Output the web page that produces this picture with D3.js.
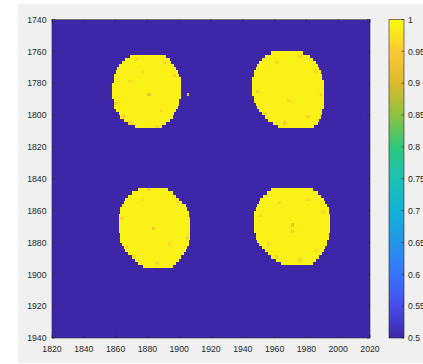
<!DOCTYPE html>
<html>
<head>
<meta charset="utf-8">
<script src="https://cdn.jsdelivr.net/npm/d3@7"></script>
<style>
  html, body { margin: 0; padding: 0; background: #fff; }
  text { font-family: "Liberation Sans", Arial, sans-serif; fill: #262626; }
</style>
</head>
<body>
<div id="chart"></div>
<script>
// axis ticks
const xTicks = [1820, 1840, 1860, 1880, 1900, 1920, 1940, 1960, 1980, 2000, 2020]
const yTicks = [1740, 1760, 1780, 1800, 1820, 1840, 1860, 1880, 1900, 1920, 1940]
const cTicks = [0.5, 0.55, 0.6, 0.65, 0.7, 0.75, 0.8, 0.85, 0.9, 0.95, 1]
const cLabels = ["0.5", "0.55", "0.6", "0.65", "0.7", "0.75", "0.8", "0.85", "0.9", "0.95", "1"]

// parula colour stops (value -> colour)
const parulaValues = [0.5, 0.55, 0.6, 0.65, 0.7, 0.75, 0.8, 0.85, 0.9, 0.95, 1]
const parulaColors = ["#3e26a8", "#484ceb", "#3675fd", "#2396e8", "#11b2d7", "#1ec0b4",
                      "#2cc87a", "#8cc33c", "#dcb92d", "#fdc834", "#f9fb0e"]

// background value of the image
const backgroundValue = 0.5
const spotValue = 0.99

// spots: rows of [y, xStart, xEnd], each row 2 units tall
const spotTopLeft = [
  [1762, 1869, 1892], [1764, 1866, 1894], [1766, 1864, 1895], [1768, 1862, 1897],
  [1770, 1861, 1898], [1772, 1860, 1899], [1774, 1859, 1900], [1776, 1859, 1901],
  [1778, 1859, 1901], [1780, 1858, 1901], [1782, 1858, 1901], [1784, 1858, 1901],
  [1786, 1858, 1901], [1788, 1858, 1901], [1790, 1859, 1900], [1792, 1859, 1900],
  [1794, 1859, 1899], [1796, 1860, 1898], [1798, 1862, 1897], [1800, 1863, 1896],
  [1802, 1865, 1894], [1804, 1868, 1892], [1806, 1872, 1889]
]
const spotTopRight = [
  [1760, 1958, 1978], [1762, 1954, 1982], [1764, 1952, 1984], [1766, 1950, 1986],
  [1768, 1949, 1987], [1770, 1948, 1988], [1772, 1947, 1989], [1774, 1947, 1990],
  [1776, 1946, 1990], [1778, 1946, 1991], [1780, 1946, 1991], [1782, 1946, 1991],
  [1784, 1946, 1991], [1786, 1946, 1991], [1788, 1947, 1991], [1790, 1947, 1991],
  [1792, 1948, 1991], [1794, 1949, 1991], [1796, 1950, 1990], [1798, 1952, 1990],
  [1800, 1954, 1989], [1802, 1956, 1988], [1804, 1959, 1987], [1806, 1962, 1985]
]
const spotBottomLeft = [
  [1846, 1874, 1893], [1848, 1870, 1896], [1850, 1868, 1898], [1852, 1866, 1900],
  [1854, 1865, 1902], [1856, 1864, 1904], [1858, 1863, 1905], [1860, 1863, 1906],
  [1862, 1862, 1906], [1864, 1862, 1907], [1866, 1862, 1907], [1868, 1862, 1907],
  [1870, 1862, 1907], [1872, 1862, 1907], [1874, 1863, 1907], [1876, 1863, 1907],
  [1878, 1863, 1906], [1880, 1864, 1906], [1882, 1865, 1905], [1884, 1866, 1904],
  [1886, 1868, 1903], [1888, 1870, 1901], [1890, 1872, 1900], [1892, 1874, 1898],
  [1894, 1877, 1896]
]
const spotBottomRight = [
  [1846, 1958, 1984], [1848, 1955, 1987], [1850, 1953, 1989], [1852, 1951, 1991],
  [1854, 1950, 1992], [1856, 1949, 1993], [1858, 1948, 1994], [1860, 1947, 1994],
  [1862, 1947, 1995], [1864, 1947, 1995], [1866, 1947, 1995], [1868, 1947, 1995],
  [1870, 1947, 1995], [1872, 1947, 1995], [1874, 1948, 1994], [1876, 1948, 1994],
  [1878, 1949, 1993], [1880, 1950, 1993], [1882, 1952, 1992], [1884, 1954, 1991],
  [1886, 1956, 1990], [1888, 1958, 1988], [1890, 1961, 1986], [1892, 1964, 1984]
]

// darker cells inside the spots: [x, y, value], 2x2 units
const speckles = [
  [1880, 1786, 0.93], [1859, 1792, 0.95], [1864, 1800, 0.95], [1868, 1804, 0.96],
  [1885, 1806, 0.96], [1872, 1764, 0.96], [1890, 1766, 0.96], [1896, 1774, 0.96],
  [1868, 1778, 0.97], [1876, 1772, 0.97], [1888, 1796, 0.97],
  [1960, 1766, 0.96], [1948, 1784, 0.96], [1953, 1798, 0.96], [1975, 1762, 0.96],
  [1985, 1772, 0.97], [1968, 1790, 0.97], [1980, 1800, 0.96], [1965, 1804, 0.95],
  [1988, 1786, 0.96],
  [1883, 1870, 0.94], [1863, 1864, 0.96], [1866, 1882, 0.96], [1871, 1888, 0.95],
  [1885, 1892, 0.96], [1898, 1854, 0.96], [1876, 1852, 0.97], [1904, 1876, 0.96],
  [1893, 1880, 0.97], [1880, 1846, 0.96],
  [1970, 1868, 0.93], [1970, 1872, 0.95], [1950, 1862, 0.96], [1955, 1880, 0.96],
  [1960, 1888, 0.95], [1975, 1890, 0.96], [1985, 1884, 0.97], [1990, 1860, 0.96],
  [1962, 1854, 0.97], [1980, 1852, 0.97]
]
// single stray pixel right of the first spot: [x, y, value]
const strays = [[1905, 1786, 0.92]]

const W = 423, H = 364
const plot = {left: 52, right: 370, top: 19.5, bottom: 338}
const bar = {left: 389, right: 404}

const svg = d3.select("#chart").append("svg")
    .attr("width", W)
    .attr("height", H)

// figure background
svg.append("rect")
    .attr("x", 18).attr("y", 4)
    .attr("width", W - 18).attr("height", 359)
    .attr("fill", "#f0f0f0")

const xScale = d3.scaleLinear().domain([1820, 2020]).range([plot.left, plot.right])
const yScale = d3.scaleLinear().domain([1740, 1940]).range([plot.top, plot.bottom])
const cScale = d3.scaleLinear().domain(parulaValues).range(parulaColors).clamp(true)
const cbScale = d3.scaleLinear().domain([0.5, 1]).range([plot.bottom, plot.top])

// image
const img = svg.append("g").attr("shape-rendering", "crispEdges")

img.append("rect")
    .attr("x", xScale(1820)).attr("y", yScale(1740))
    .attr("width", xScale(2020) - xScale(1820))
    .attr("height", yScale(1940) - yScale(1740))
    .attr("fill", cScale(backgroundValue))

const rows = [].concat(spotTopLeft, spotTopRight, spotBottomLeft, spotBottomRight)

img.selectAll(".row")
    .data(rows)
    .join("rect")
        .attr("class", "row")
        .attr("x", d => xScale(d[1]))
        .attr("y", d => yScale(d[0]))
        .attr("width", d => xScale(d[2]) - xScale(d[1]))
        .attr("height", d => yScale(d[0] + 2) - yScale(d[0]) + 0.3)
        .attr("fill", cScale(spotValue))

img.selectAll(".speck")
    .data(speckles)
    .join("rect")
        .attr("class", "speck")
        .attr("x", d => xScale(d[0]))
        .attr("y", d => yScale(d[1]))
        .attr("width", d => xScale(d[0] + 2) - xScale(d[0]))
        .attr("height", d => yScale(d[1] + 2) - yScale(d[1]))
        .attr("fill", d => cScale(d[2]))

img.selectAll(".stray")
    .data(strays)
    .join("rect")
        .attr("class", "stray")
        .attr("x", d => xScale(d[0]))
        .attr("y", d => yScale(d[1]))
        .attr("width", d => xScale(d[0] + 1) - xScale(d[0]))
        .attr("height", d => yScale(d[1] + 2) - yScale(d[1]))
        .attr("fill", d => cScale(d[2]))

// axes box and inward ticks
const axisColor = "#262626"
const tickLen = 3
const box = svg.append("g").attr("stroke", axisColor).attr("stroke-width", 0.6).attr("fill", "none")

box.append("rect")
    .attr("x", plot.left).attr("y", plot.top)
    .attr("width", plot.right - plot.left).attr("height", plot.bottom - plot.top)

box.selectAll(".xt")
    .data(xTicks)
    .join("path")
        .attr("d", d => `M${xScale(d)},${plot.bottom}v${-tickLen}M${xScale(d)},${plot.top}v${tickLen}`)

box.selectAll(".yt")
    .data(yTicks)
    .join("path")
        .attr("d", d => `M${plot.left},${yScale(d)}h${tickLen}M${plot.right},${yScale(d)}h${-tickLen}`)

svg.selectAll(".xl")
    .data(xTicks)
    .join("text")
        .attr("x", d => xScale(d))
        .attr("y", plot.bottom + 14)
        .attr("text-anchor", "middle")
        .attr("font-size", "8.7px")
        .text(d => d)

svg.selectAll(".yl")
    .data(yTicks)
    .join("text")
        .attr("x", plot.left - 5.5)
        .attr("y", d => yScale(d) + 3.2)
        .attr("text-anchor", "end")
        .attr("font-size", "8.7px")
        .text(d => d)

// colorbar
const grad = svg.append("defs").append("linearGradient")
    .attr("id", "parula")
    .attr("x1", 0).attr("y1", 1).attr("x2", 0).attr("y2", 0)

grad.selectAll("stop")
    .data(parulaValues)
    .join("stop")
        .attr("offset", d => (d - 0.5) / 0.5)
        .attr("stop-color", d => cScale(d))

svg.append("rect")
    .attr("x", bar.left).attr("y", plot.top)
    .attr("width", bar.right - bar.left).attr("height", plot.bottom - plot.top)
    .attr("fill", "url(#parula)")
    .attr("stroke", axisColor)
    .attr("stroke-width", 0.6)

svg.append("g")
    .attr("stroke", axisColor).attr("stroke-width", 0.6)
    .selectAll("path")
    .data(cTicks)
    .join("path")
        .attr("d", d => `M${bar.right},${cbScale(d)}h-2.5`)

svg.selectAll(".cl")
    .data(cTicks)
    .join("text")
        .attr("x", bar.right + 4)
        .attr("y", d => cbScale(d) + 3.2)
        .attr("font-size", "8.7px")
        .text((d, i) => cLabels[i])
</script>
</body>
</html>
